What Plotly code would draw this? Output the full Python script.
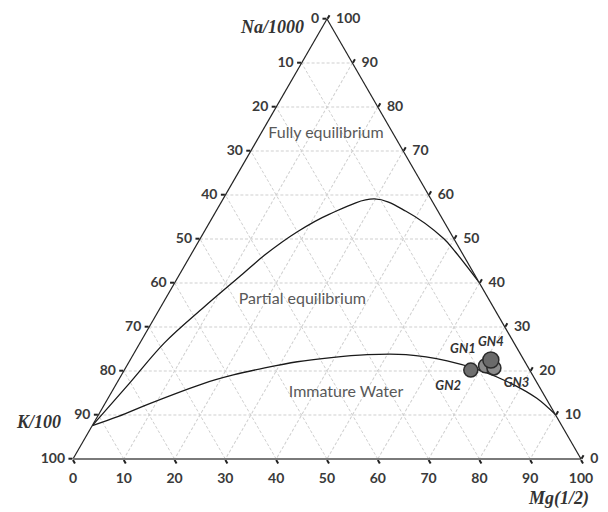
import plotly.graph_objects as go

# ---------------- data ----------------
tick_values = [0, 10, 20, 30, 40, 50, 60, 70, 80, 90, 100]

# Full-equilibrium curve (Na/1000, K/100, Mg^0.5) in %
full_na = [7.6, 17.2, 26.4, 34.5, 42.1, 46.4, 51.7, 55.6, 59.1, 56.3, 50.1, 47.1, 40.2]
full_k = [92.4, 80.3, 68.8, 57.0, 45.5, 39.0, 29.9, 21.8, 11.1, 6.3, 2.0, 1.2, 0.0]
full_mg = [0.0, 2.5, 4.8, 8.5, 12.4, 14.6, 18.4, 22.6, 29.8, 37.4, 47.9, 51.7, 59.8]

# Immature-water boundary curve
imm_na = [7.6, 9.7, 12.6, 17.2, 19.1, 20.7, 22.1, 23.0, 23.7, 23.7, 22.3, 20.2, 17.2, 13.8, 10.1]
imm_k = [92.4, 86.2, 78.6, 65.6, 58.9, 51.9, 44.8, 38.1, 30.2, 22.6, 15.2, 9.9, 5.2, 1.8, 0.0]
imm_mg = [0.0, 4.1, 8.8, 17.2, 22.0, 27.4, 33.1, 38.9, 46.1, 53.7, 62.5, 69.9, 77.6, 84.4, 89.9]

# Samples
sample_names = ["GN2", "GN1", "GN3", "GN4"]
sample_na = [20.2, 21.2, 20.7, 22.5]
sample_k = [11.6, 8.2, 6.8, 6.5]
sample_mg = [68.2, 70.6, 72.5, 71.0]
sample_colors = ["#6e6e6e", "#8a8a8a", "#8c8c8c", "#6a6a6a"]
sample_sizes = [14, 14, 14, 16]
sample_textpos = ["bottom left", "top left", "bottom right", "top center"]

region_names = ["Fully equilibrium", "Partial equilibrium", "Immature Water"]
region_na = [73.8, 36.1, 14.9]
region_k = [13.3, 36.8, 38.8]
region_mg = [12.9, 27.1, 46.3]

# ---------------- figure ----------------
fig = go.Figure()

tick_font = dict(family="Lato", size=14, color="#3a3a3a", weight="bold")

# left edge labels (K)
fig.add_trace(go.Scatterternary(
    a=[100 - v for v in tick_values], b=tick_values, c=[0] * len(tick_values),
    mode="markers+text", text=[str(v) for v in tick_values],
    textposition="middle left", textfont=tick_font,
    marker=dict(size=11, color="rgba(0,0,0,0)"),
    cliponaxis=False, hoverinfo="skip", showlegend=False))
# right edge labels (Na)
fig.add_trace(go.Scatterternary(
    a=tick_values, b=[0] * len(tick_values), c=[100 - v for v in tick_values],
    mode="markers+text", text=[str(v) for v in tick_values],
    textposition="middle right", textfont=tick_font,
    marker=dict(size=13, color="rgba(0,0,0,0)"),
    cliponaxis=False, hoverinfo="skip", showlegend=False))
# bottom edge labels (Mg)
fig.add_trace(go.Scatterternary(
    a=[0] * len(tick_values), b=[100 - v for v in tick_values], c=tick_values,
    mode="markers+text", text=[str(v) for v in tick_values],
    textposition="bottom center", textfont=tick_font,
    marker=dict(size=20, color="rgba(0,0,0,0)"),
    cliponaxis=False, hoverinfo="skip", showlegend=False))

# curves
fig.add_trace(go.Scatterternary(
    a=full_na, b=full_k, c=full_mg, mode="lines",
    line=dict(color="#1a1a1a", width=1.3, shape="spline", smoothing=1.0),
    cliponaxis=False, showlegend=False))
fig.add_trace(go.Scatterternary(
    a=imm_na, b=imm_k, c=imm_mg, mode="lines",
    line=dict(color="#1a1a1a", width=1.3, shape="spline", smoothing=1.0),
    cliponaxis=False, showlegend=False))

# region labels
fig.add_trace(go.Scatterternary(
    a=region_na, b=region_k, c=region_mg, mode="text", text=region_names,
    textposition="middle center",
    textfont=dict(family="Lato", size=16, color="#595959"),
    cliponaxis=False, hoverinfo="skip", showlegend=False))

# samples
fig.add_trace(go.Scatterternary(
    a=sample_na, b=sample_k, c=sample_mg, mode="markers+text",
    text=sample_names, textposition=sample_textpos,
    textfont=dict(family="Lato", size=13, color="#333333", weight="bold", style="italic"),
    marker=dict(size=sample_sizes, color=sample_colors,
                line=dict(color="#2a2a2a", width=1.5), opacity=1),
    cliponaxis=False, showlegend=False))

axis_common = dict(
    title=dict(text=""),
    showticklabels=False, ticks="outside", ticklen=4, tickwidth=1.5, tickcolor="#222222",
    tick0=0, dtick=10, showgrid=True, gridcolor="#cfcfcf", gridwidth=1, griddash="3px,2px",
    showline=True, min=0,
)

fig.update_layout(
    width=608, height=512,
    margin=dict(l=61, r=31, t=11, b=61),
    paper_bgcolor="white",
    ternary=dict(
        sum=100, bgcolor="white",
        aaxis=dict(axis_common, linecolor="#222222", linewidth=1.2),
        baxis=dict(axis_common, linecolor="#7a7a7a", linewidth=2.2),
        caxis=dict(axis_common, linecolor="#222222", linewidth=1.2),
    ),
    annotations=[
        dict(text="<b><i>Na/1000</i></b>", x=0.393, y=0.982, xref="paper", yref="paper",
             xanchor="center", yanchor="middle",
             showarrow=False, font=dict(family="Liberation Serif", size=18, color="#333333")),
        dict(text="<b><i>K/100</i></b>", x=-0.06, y=0.084, xref="paper", yref="paper",
             xanchor="center", yanchor="middle",
             showarrow=False, font=dict(family="Liberation Serif", size=18, color="#333333")),
        dict(text="<b><i>Mg(1/2)</i></b>", x=0.948, y=-0.089, xref="paper", yref="paper",
             xanchor="center", yanchor="middle",
             showarrow=False, font=dict(family="Liberation Serif", size=18, color="#333333")),
    ],
)

fig.write_html("out.html")
